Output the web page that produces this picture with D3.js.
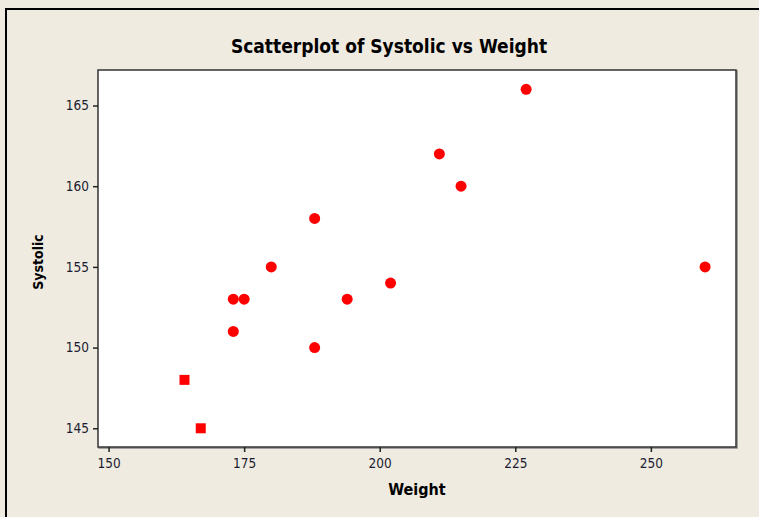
<!DOCTYPE html>
<meta charset="utf-8">
<style>
body { margin: 0; background: #efebe1; }
text { font-family: Tahoma, "DejaVu Sans Condensed", "DejaVu Sans", sans-serif; fill: #000; }
.tick text { font-size: 13.5px; fill: #1c1c30; }
</style>
<body>
<svg width="759" height="517"></svg>
<script src="https://d3js.org/d3.v7.min.js"></script>
<script>
// data
var weight   = [164, 167, 173, 173, 175, 180, 188, 188, 194, 202, 211, 215, 227, 260];
var systolic = [148, 145, 153, 151, 153, 155, 158, 150, 153, 154, 162, 160, 166, 155];
var marker   = ["square", "square", "circle", "circle", "circle", "circle", "circle",
                "circle", "circle", "circle", "circle", "circle", "circle", "circle"];
var xTicks = [150, 175, 200, 225, 250];
var yTicks = [145, 150, 155, 160, 165];

var svg = d3.select("svg"),
    width = +svg.attr("width"),
    height = +svg.attr("height");

var plot = {left: 98, top: 70, right: 736, bottom: 447};

// outer frame
svg.append("rect")
    .attr("x", 0).attr("y", 0).attr("width", width).attr("height", height)
    .style("fill", "#efebe1");
svg.append("path")
    .attr("d", "M6," + height + "V9H" + width)
    .style("fill", "none").style("stroke", "#000").style("stroke-width", 2);

var x = d3.scaleLinear().domain([148.05, 265.7]).range([plot.left, plot.right]);
var y = d3.scaleLinear().domain([143.84, 167.2]).range([plot.bottom, plot.top]);

// plot area with slight shadow on right / bottom
svg.append("rect")
    .attr("x", plot.left + 1).attr("y", plot.top + 1)
    .attr("width", plot.right - plot.left).attr("height", plot.bottom - plot.top)
    .style("fill", "none").style("stroke", "#888").style("stroke-width", 1.5);
svg.append("rect")
    .attr("x", plot.left).attr("y", plot.top)
    .attr("width", plot.right - plot.left).attr("height", plot.bottom - plot.top)
    .style("fill", "#fff").style("stroke", "#333").style("stroke-width", 1.5);

var xAxis = svg.append("g")
    .attr("transform", "translate(0," + plot.bottom + ")")
    .call(d3.axisBottom(x).tickValues(xTicks).tickSize(5).tickSizeOuter(0).tickPadding(6));
var yAxis = svg.append("g")
    .attr("transform", "translate(" + plot.left + ",0)")
    .call(d3.axisLeft(y).tickValues(yTicks).tickSize(5).tickSizeOuter(0).tickPadding(4));
[xAxis, yAxis].forEach(function(a) {
  a.select(".domain").remove();
  a.selectAll(".tick line").style("stroke", "#222").style("stroke-width", 1.5);
});

// points
var pts = weight.map(function(w, i) { return {x: w, y: systolic[i], m: marker[i]}; });
svg.append("g").selectAll("path")
  .data(pts)
  .enter().append("path")
    .attr("transform", function(d) { return "translate(" + x(d.x) + "," + y(d.y) + ")"; })
    .attr("d", function(d) {
      return d3.symbol().type(d.m === "square" ? d3.symbolSquare : d3.symbolCircle)
        .size(d.m === "square" ? 100 : 95)();
    })
    .style("fill", "#ff0000");

// titles
svg.append("text")
    .attr("x", 389).attr("y", 53)
    .attr("text-anchor", "middle")
    .style("font-size", "19px").style("font-weight", "bold")
    .text("Scatterplot of Systolic vs Weight");
svg.append("text")
    .attr("x", 417).attr("y", 495)
    .attr("text-anchor", "middle")
    .style("font-size", "16px").style("font-weight", "bold")
    .text("Weight");
svg.append("text")
    .attr("transform", "translate(43,262) rotate(-90)")
    .attr("text-anchor", "middle")
    .style("font-size", "14px").style("font-weight", "bold")
    .text("Systolic");
</script>
</body>
